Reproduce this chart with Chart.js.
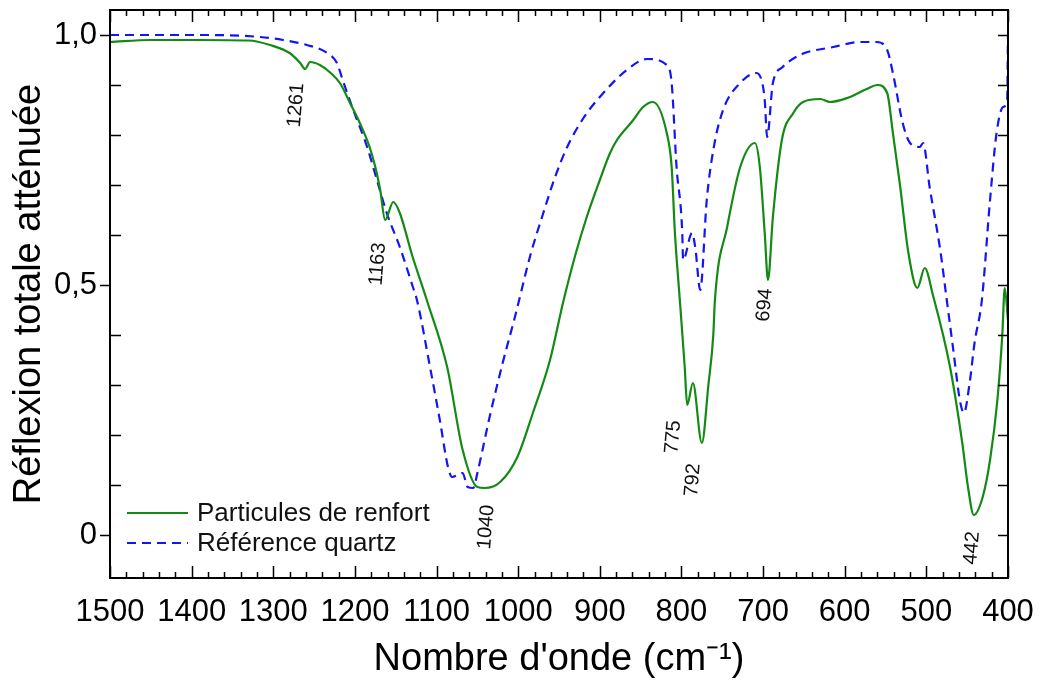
<!DOCTYPE html>
<html>
<head>
<meta charset="utf-8">
<script src="https://cdn.jsdelivr.net/npm/chart.js@4.4.1/dist/chart.umd.min.js"></script>
<style>
  body { margin: 0; background: #fff; }
</style>
</head>
<body>
<canvas id="irChart" width="1041" height="688"></canvas>
<script>
// wavenumbers (cm-1) and values
var renfortX = [1500, 1450, 1390, 1330, 1304, 1280, 1267, 1261, 1255, 1243, 1231, 1218, 1206, 1194, 1182, 1175, 1169, 1163, 1153, 1145, 1130, 1112, 1087, 1068, 1050, 1041, 1022, 1001, 982, 961, 945, 930, 916, 900, 888, 879, 859, 847, 835, 818, 812, 808, 802, 796, 793, 786, 775, 767, 761, 759, 744, 728, 710, 704, 698, 694, 688, 677, 663, 651, 630, 618, 597, 573, 560, 548, 541, 532, 522, 511, 502, 492, 471, 456, 449, 442, 431, 422, 413, 407, 404, 400];
var renfortY = [0.986, 0.99, 0.99, 0.989, 0.98, 0.964, 0.944, 0.932, 0.946, 0.94, 0.926, 0.903, 0.864, 0.824, 0.776, 0.736, 0.69, 0.63, 0.666, 0.644, 0.56, 0.47, 0.336, 0.17, 0.096, 0.094, 0.106, 0.156, 0.244, 0.35, 0.465, 0.56, 0.636, 0.71, 0.762, 0.79, 0.83, 0.856, 0.866, 0.804, 0.736, 0.604, 0.47, 0.336, 0.26, 0.304, 0.184, 0.30, 0.40, 0.47, 0.616, 0.736, 0.784, 0.736, 0.604, 0.51, 0.636, 0.79, 0.844, 0.866, 0.872, 0.866, 0.874, 0.892, 0.90, 0.884, 0.804, 0.696, 0.564, 0.494, 0.534, 0.48, 0.336, 0.184, 0.096, 0.04, 0.076, 0.15, 0.27, 0.40, 0.494, 0.43];

var quartzX = [1500, 1380, 1316, 1288, 1259, 1234, 1222, 1215, 1202, 1185, 1173, 1161, 1145, 1129, 1124, 1108, 1096, 1086, 1081, 1068, 1062, 1055, 1050, 1035, 1019, 1004, 985, 970, 955, 940, 920, 900, 867, 842, 818, 812, 806, 799, 798, 787, 783, 777, 769, 761, 749, 728, 708, 701, 698, 695, 688, 676, 655, 614, 581, 561, 548, 541, 529, 520, 508, 504, 496, 483, 475, 467, 459, 454, 447, 441, 432, 422, 414, 406, 401, 400];
var quartzY = [1.0, 1.0, 0.996, 0.99, 0.98, 0.964, 0.944, 0.91, 0.85, 0.776, 0.71, 0.644, 0.576, 0.496, 0.47, 0.336, 0.23, 0.136, 0.116, 0.124, 0.096, 0.094, 0.124, 0.236, 0.344, 0.436, 0.56, 0.64, 0.715, 0.776, 0.834, 0.876, 0.93, 0.952, 0.94, 0.904, 0.736, 0.604, 0.55, 0.604, 0.574, 0.49, 0.67, 0.77, 0.85, 0.904, 0.924, 0.904, 0.87, 0.796, 0.904, 0.936, 0.96, 0.976, 0.986, 0.986, 0.97, 0.924, 0.824, 0.784, 0.776, 0.784, 0.696, 0.57, 0.47, 0.37, 0.27, 0.244, 0.304, 0.384, 0.47, 0.67, 0.804, 0.856, 0.87, 1.0];

var seriesNames = ['Particules de renfort', 'Référence quartz'];

var xTickValues = [1500, 1400, 1300, 1200, 1100, 1000, 900, 800, 700, 600, 500, 400];
var yTickValues = [0, 0.5, 1.0];
var yTickLabels = ['0', '0,5', '1,0'];

// peak annotations
var peakLabels = ['1261', '1163', '1040', '775', '792', '694', '442'];
var peakX = [1272, 1172, 1039, 810, 786, 698, 444];
var peakY = [0.86, 0.542, 0.016, 0.196, 0.11, 0.46, -0.026];

var fontFam = "'Liberation Sans', Arial, sans-serif";

function toPoints(xs, ys) {
  var pts = [];
  for (var i = 0; i < xs.length; i++) pts.push({x: xs[i], y: ys[i]});
  return pts;
}

// frame + ticks the way the original plot has them
var framePlugin = {
  id: 'frame',
  afterDraw: function(chart) {
    var ctx = chart.ctx, a = chart.chartArea;
    var xs = chart.scales.x, ys = chart.scales.y;
    ctx.save();
    ctx.strokeStyle = '#000';
    ctx.lineWidth = 2;
    ctx.strokeRect(a.left, a.top, a.right - a.left, a.bottom - a.top);
    ctx.lineWidth = 1.5;
    ctx.beginPath();
    for (var v = 400; v <= 1500; v += 20) {
      var px = Math.round(xs.getPixelForValue(v)) + 0.5;
      var len = (v % 100 === 0) ? 12 : 6;
      ctx.moveTo(px, a.bottom); ctx.lineTo(px, a.bottom - len);
      ctx.moveTo(px, a.top); ctx.lineTo(px, a.top + len);
    }
    for (var k = 0; k <= 10; k++) {
      var py = Math.round(ys.getPixelForValue(k / 10)) + 0.5;
      if (k % 5 === 0) {
        ctx.moveTo(a.left, py); ctx.lineTo(a.left - 10, py);
      } else {
        ctx.moveTo(a.left, py); ctx.lineTo(a.left + 11, py);
      }
      ctx.moveTo(a.right, py); ctx.lineTo(a.right - 10, py);
    }
    ctx.stroke();

    // peak labels
    ctx.fillStyle = '#111';
    ctx.font = '20px ' + fontFam;
    ctx.textAlign = 'center';
    ctx.textBaseline = 'middle';
    for (var i = 0; i < peakLabels.length; i++) {
      ctx.save();
      ctx.translate(xs.getPixelForValue(peakX[i]), ys.getPixelForValue(peakY[i]));
      ctx.rotate(-85 * Math.PI / 180);
      ctx.fillText(peakLabels[i], 0, 0);
      ctx.restore();
    }

    // legend, lower left inside the frame
    var rows = [a.bottom - 65, a.bottom - 35];
    ctx.font = '26px ' + fontFam;
    ctx.textAlign = 'left';
    chart.data.datasets.forEach(function(ds, j) {
      ctx.strokeStyle = ds.borderColor;
      ctx.lineWidth = ds.borderWidth;
      ctx.setLineDash(ds.borderDash || []);
      ctx.beginPath();
      ctx.moveTo(a.left + 17, rows[j]);
      ctx.lineTo(a.left + 78, rows[j]);
      ctx.stroke();
      ctx.setLineDash([]);
      ctx.fillStyle = '#111';
      ctx.fillText(ds.label, a.left + 87, rows[j] + 1);
    });
    ctx.restore();
  }
};

var ctx = document.getElementById('irChart').getContext('2d');
var myChart = new Chart(ctx, {
  type: 'line',
  data: {
    datasets: [{
      label: seriesNames[0],
      data: toPoints(renfortX, renfortY),
      borderColor: '#138a13',
      borderWidth: 2.2,
      pointRadius: 0,
      cubicInterpolationMode: 'monotone',
      fill: false
    }, {
      label: seriesNames[1],
      data: toPoints(quartzX, quartzY),
      borderColor: '#1414f5',
      borderWidth: 2.2,
      borderDash: [9, 6],
      pointRadius: 0,
      cubicInterpolationMode: 'monotone',
      fill: false
    }]
  },
  options: {
    responsive: false,
    animation: false,
    layout: { padding: { left: 0, right: 33, top: 10, bottom: 0 } },
    plugins: {
      legend: { display: false },
      tooltip: { enabled: false }
    },
    scales: {
      x: {
        type: 'linear',
        reverse: true,
        min: 400,
        max: 1500,
        grid: { display: false, drawTicks: false },
        border: { display: false },
        afterBuildTicks: function(s) { s.ticks = xTickValues.map(function(v) { return {value: v}; }); },
        afterFit: function(s) { s.height = 110; s.paddingLeft = 0; s.paddingRight = 0; },
        ticks: {
          color: '#000',
          padding: 16,
          maxRotation: 0,
          autoSkip: false,
          font: { family: fontFam, size: 31 },
          callback: function(v) { return String(v); }
        },
        title: {
          display: true,
          text: "Nombre d'onde (cm⁻¹)",
          color: '#000',
          font: { family: fontFam, size: 38, lineHeight: 1 },
          padding: { top: 0, bottom: 9 }
        }
      },
      y: {
        min: -0.086,
        max: 1.05,
        grid: { display: false, drawTicks: false },
        border: { display: false },
        afterBuildTicks: function(s) { s.ticks = yTickValues.map(function(v) { return {value: v}; }); },
        afterFit: function(s) { s.width = 110; s.paddingTop = 0; s.paddingBottom = 0; },
        ticks: {
          color: '#000',
          padding: 13,
          font: { family: fontFam, size: 31 },
          callback: function(v) { return yTickLabels[yTickValues.indexOf(v)]; }
        },
        title: {
          display: true,
          text: 'Réflexion totale atténuée',
          color: '#000',
          font: { family: fontFam, size: 38, lineHeight: 1 },
          padding: { top: 11, bottom: 0 }
        }
      }
    }
  },
  plugins: [framePlugin]
});
</script>
</body>
</html>
